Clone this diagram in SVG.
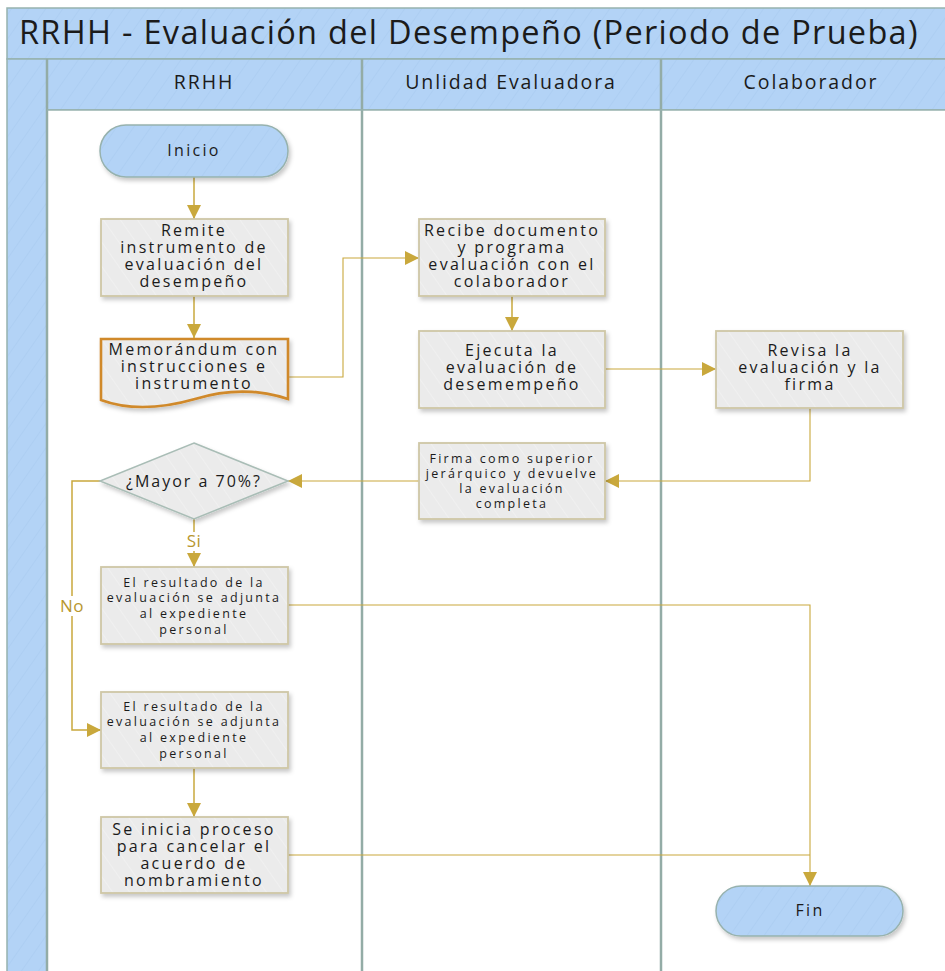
<svg xmlns="http://www.w3.org/2000/svg" width="945" height="971" viewBox="0 0 945 971">
  <defs>
    <pattern id="hatchBlue" patternUnits="userSpaceOnUse" width="14" height="14" patternTransform="rotate(35)">
      <rect width="14" height="14" fill="#b3d3f6"/>
      <line x1="0" y1="0" x2="0" y2="14" stroke="#a7c9ef" stroke-width="1"/>
    </pattern>
    <pattern id="hatchGray" patternUnits="userSpaceOnUse" width="14" height="14" patternTransform="rotate(-35)">
      <rect width="14" height="14" fill="#ebebeb"/>
      <line x1="0" y1="0" x2="0" y2="14" stroke="#f4f4f4" stroke-width="1.2"/>
    </pattern>
    <filter id="shadow" x="-10%" y="-10%" width="125%" height="130%">
      <feDropShadow dx="2" dy="3" stdDeviation="2" flood-color="#000" flood-opacity="0.22"/>
    </filter>
    <marker id="arrow" markerUnits="userSpaceOnUse" markerWidth="16" markerHeight="16" refX="14" refY="7" orient="auto">
      <path d="M0,0 L14,7 L0,14 Z" fill="#c9a83c"/>
    </marker>
    <style>
      .band { fill: url(#hatchBlue); stroke: #97b2ae; stroke-width: 1.5; }
      .divider { stroke: #93aca6; stroke-width: 2.5; fill: none; }
      .box { fill: url(#hatchGray); stroke: #cfc7a6; stroke-width: 1.8; filter: url(#shadow); }
      .term { fill: url(#hatchBlue); stroke: #97b2ae; stroke-width: 1.5; filter: url(#shadow); }
      .doc { fill: url(#hatchGray); stroke: #d0892a; stroke-width: 2.6; filter: url(#shadow); }
      .diamond { fill: url(#hatchGray); stroke: #a9bdb6; stroke-width: 1.5; filter: url(#shadow); }
      .flow { stroke: #c9a83c; stroke-width: 1.5; fill: none; }
      .flowThin { stroke: #c9a83c; stroke-width: 1.1; fill: none; }
      text { font-family: "Open Sans", "Noto Sans", "DejaVu Sans", sans-serif; fill: #1b1b1b; text-anchor: middle; }
      .title { font-size: 32.5px; text-anchor: start; letter-spacing: 1.3px; }
      .lane { font-size: 19.5px; letter-spacing: 1.9px; }
      .t16 { font-size: 16px; letter-spacing: 2.3px; }
      .t12 { font-size: 12.5px; letter-spacing: 2.3px; }
      .lbl { font-size: 17px; fill: #b8972f; letter-spacing: 0.5px; }
    </style>
  </defs>

  <rect width="945" height="971" fill="#ffffff"/>

  <!-- Pool frame: title band, lane header band and left strip -->
  <g id="pool">
    <rect class="band" x="7" y="8" width="945" height="51"/>
    <rect class="band" x="7" y="59" width="40" height="920"/>
    <rect class="band" x="47" y="59" width="905" height="51"/>
    <rect x="47" y="110" width="905" height="870" fill="#ffffff"/>
    <line class="divider" x1="47" y1="59" x2="47" y2="971"/>
    <line class="divider" x1="362" y1="59" x2="362" y2="971"/>
    <line class="divider" x1="661" y1="59" x2="661" y2="971"/>
    <line x1="47" y1="110" x2="945" y2="110" stroke="#97b2ae" stroke-width="1.5"/>
    <text class="title" x="19" y="44">RRHH - Evaluación del Desempeño (Periodo de Prueba)</text>
    <text class="lane" x="204" y="89">RRHH</text>
    <text class="lane" x="511" y="89">Unlidad Evaluadora</text>
    <text class="lane" x="811" y="89">Colaborador</text>
  </g>

  <!-- Connectors -->
  <g id="connectors">
    <path class="flow" d="M194,177 V219" marker-end="url(#arrow)"/>
    <path class="flow" d="M194,296 V338" marker-end="url(#arrow)"/>
    <path class="flowThin" d="M288,377 H343 V258 H419" marker-end="url(#arrow)"/>
    <path class="flow" d="M512,296 V331" marker-end="url(#arrow)"/>
    <path class="flowThin" d="M605,369 H716" marker-end="url(#arrow)"/>
    <path class="flowThin" d="M810,408 V481 H605" marker-end="url(#arrow)"/>
    <path class="flowThin" d="M419,481 H288" marker-end="url(#arrow)"/>
    <path class="flow" d="M194,519 V532"/>
    <path class="flow" d="M194,551 V567" marker-end="url(#arrow)"/>
    <path class="flow" d="M100,481 H72 V596"/>
    <path class="flow" d="M72,616 V730 H101" marker-end="url(#arrow)"/>
    <path class="flowThin" d="M288,605 H810 V886" marker-end="url(#arrow)"/>
    <path class="flow" d="M194,768 V817" marker-end="url(#arrow)"/>
    <path class="flowThin" d="M288,855 H810"/>
    <text class="lbl" x="194" y="547">Si</text>
    <text class="lbl" x="72" y="612">No</text>
  </g>

  <!-- Nodes -->
  <g id="inicio">
    <rect class="term" x="100" y="125" width="188" height="52" rx="26" ry="26"/>
    <text class="t16" x="194" y="156">Inicio</text>
  </g>

  <g id="remite">
    <rect class="box" x="101" y="219" width="187" height="77"/>
    <text class="t16" x="194" y="236">Remite</text>
    <text class="t16" x="194" y="253">instrumento de</text>
    <text class="t16" x="194" y="270">evaluación del</text>
    <text class="t16" x="194" y="287">desempeño</text>
  </g>

  <g id="memorandum">
    <path class="doc" d="M101,339 H288 V399 C258,389 228,389 195,399 C160,409 128,410 101,400 Z"/>
    <text class="t16" x="194" y="355">Memorándum con</text>
    <text class="t16" x="194" y="372">instrucciones e</text>
    <text class="t16" x="194" y="389">instrumento</text>
  </g>

  <g id="recibe">
    <rect class="box" x="419" y="219" width="186" height="77"/>
    <text class="t16" x="512" y="236">Recibe documento</text>
    <text class="t16" x="512" y="253">y programa</text>
    <text class="t16" x="512" y="270">evaluación con el</text>
    <text class="t16" x="512" y="287">colaborador</text>
  </g>

  <g id="ejecuta">
    <rect class="box" x="419" y="331" width="186" height="77"/>
    <text class="t16" x="512" y="356">Ejecuta la</text>
    <text class="t16" x="512" y="373">evaluación de</text>
    <text class="t16" x="512" y="390">desemempeño</text>
  </g>

  <g id="revisa">
    <rect class="box" x="716" y="331" width="187" height="77"/>
    <text class="t16" x="810" y="356">Revisa la</text>
    <text class="t16" x="810" y="373">evaluación y la</text>
    <text class="t16" x="810" y="390">firma</text>
  </g>

  <g id="firma">
    <rect class="box" x="419" y="443" width="186" height="76"/>
    <text class="t12" x="512" y="463">Firma como superior</text>
    <text class="t12" x="512" y="478">jerárquico y devuelve</text>
    <text class="t12" x="512" y="493">la evaluación</text>
    <text class="t12" x="512" y="508">completa</text>
  </g>

  <g id="decision">
    <polygon class="diamond" points="194,443 288,481 194,519 100,481"/>
    <text class="t16" x="194" y="487" style="letter-spacing:2px">¿Mayor a 70%?</text>
  </g>

  <g id="resultado-si">
    <rect class="box" x="101" y="567" width="187" height="77"/>
    <text class="t12" x="194" y="587">El resultado de la</text>
    <text class="t12" x="194" y="602">evaluación se adjunta</text>
    <text class="t12" x="194" y="618">al expediente</text>
    <text class="t12" x="194" y="634">personal</text>
  </g>

  <g id="resultado-no">
    <rect class="box" x="101" y="692" width="187" height="76"/>
    <text class="t12" x="194" y="711">El resultado de la</text>
    <text class="t12" x="194" y="726">evaluación se adjunta</text>
    <text class="t12" x="194" y="742">al expediente</text>
    <text class="t12" x="194" y="758">personal</text>
  </g>

  <g id="cancelar">
    <rect class="box" x="101" y="817" width="187" height="76"/>
    <text class="t16" x="194" y="835">Se inicia proceso</text>
    <text class="t16" x="194" y="852">para cancelar el</text>
    <text class="t16" x="194" y="869">acuerdo de</text>
    <text class="t16" x="194" y="886">nombramiento</text>
  </g>

  <g id="fin">
    <rect class="term" x="716" y="886" width="187" height="50" rx="25" ry="25"/>
    <text class="t16" x="810" y="916">Fin</text>
  </g>
</svg>
